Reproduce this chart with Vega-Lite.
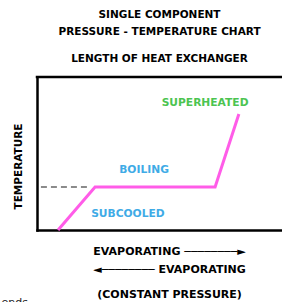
{
  "$schema": "https://vega.github.io/schema/vega-lite/v6.json",
  "autosize": "none",
  "width": 245,
  "height": 153,
  "padding": {"left": 37, "top": 77, "right": 0, "bottom": 72},
  "background": "white",
  "config": {"view": {"stroke": null}, "font": "DejaVu Sans"},
  "title": {
    "text": ["SINGLE COMPONENT", "PRESSURE - TEMPERATURE CHART"],
    "subtitle": "LENGTH OF HEAT EXCHANGER",
    "font": "DejaVu Sans",
    "fontSize": 10.5,
    "fontWeight": "bold",
    "color": "#000",
    "lineHeight": 17,
    "subtitleFont": "DejaVu Sans",
    "subtitleFontSize": 10.5,
    "subtitleFontWeight": "bold",
    "subtitleColor": "#000",
    "subtitlePadding": 16,
    "offset": 11,
    "anchor": "middle"
  },
  "datasets": {
    "curve": [
      {"length": 8.6, "temp": 0},
      {"length": 23.7, "temp": 28.1},
      {"length": 72.7, "temp": 28.1},
      {"length": 82.4, "temp": 75.8}
    ],
    "saturation": [
      {"from": 1.6, "to": 20.8, "temp": 28.1}
    ],
    "frame": [
      {"temp": 100}
    ],
    "labels": [
      {"length": 68.6, "temp": 83.2, "label": "SUPERHEATED", "phase": "superheated"},
      {"length": 43.7, "temp": 39.4, "label": "BOILING", "phase": "boiling"},
      {"length": 37.1, "temp": 10.6, "label": "SUBCOOLED", "phase": "subcooled"}
    ],
    "caption": [
      {"length": 54.1, "temp": -42.5, "label": "(CONSTANT PRESSURE)"}
    ],
    "note": [
      {"length": -14.5, "temp": -48, "label": "ends"}
    ]
  },
  "layer": [
    {
      "data": {"name": "curve"},
      "mark": {"type": "line", "color": "#ff5ce8", "strokeWidth": 3},
      "encoding": {
        "x": {
          "field": "length",
          "type": "quantitative",
          "scale": {"domain": [0, 100], "nice": false, "zero": false},
          "axis": {
            "title": ["EVAPORATING ────────►", "◄──────── EVAPORATING"],
            "labels": false,
            "ticks": false,
            "grid": false,
            "domainColor": "#000",
            "domainWidth": 2.5,
            "domainCap": "square",
            "titleFont": "DejaVu Sans",
            "titleFontSize": 11,
            "titleFontWeight": "bold",
            "titleColor": "#000",
            "titlePadding": 15,
            "titleLineHeight": 18,
            "titleX": 132,
            "titleAlign": "center"
          }
        },
        "y": {
          "field": "temp",
          "type": "quantitative",
          "scale": {"domain": [0, 100], "nice": false, "zero": false},
          "axis": {
            "title": "TEMPERATURE",
            "labels": false,
            "ticks": false,
            "grid": false,
            "domainColor": "#000",
            "domainWidth": 2.5,
            "domainCap": "square",
            "titleFont": "DejaVu Sans",
            "titleFontSize": 10.5,
            "titleFontWeight": "bold",
            "titleColor": "#000",
            "titlePadding": 14,
            "titleY": 89
          }
        }
      }
    },
    {
      "data": {"name": "saturation"},
      "mark": {"type": "rule", "color": "#666", "strokeWidth": 1.5, "strokeDash": [6, 4]},
      "encoding": {
        "x": {"field": "from", "type": "quantitative"},
        "x2": {"field": "to"},
        "y": {"field": "temp", "type": "quantitative"}
      }
    },
    {
      "data": {"name": "frame"},
      "mark": {"type": "rule", "color": "#000", "strokeWidth": 2.5, "strokeCap": "square"},
      "encoding": {
        "y": {"field": "temp", "type": "quantitative"}
      }
    },
    {
      "data": {"name": "labels"},
      "mark": {"type": "text", "font": "DejaVu Sans", "fontSize": 10.7, "fontWeight": "bold", "align": "center", "baseline": "middle"},
      "encoding": {
        "x": {"field": "length", "type": "quantitative"},
        "y": {"field": "temp", "type": "quantitative"},
        "text": {"field": "label"},
        "color": {
          "field": "phase",
          "type": "nominal",
          "scale": {"domain": ["superheated", "boiling", "subcooled"], "range": ["#4cc451", "#3fabe6", "#3fabe6"]},
          "legend": null
        }
      }
    },
    {
      "data": {"name": "caption"},
      "mark": {"type": "text", "font": "DejaVu Sans", "fontSize": 11, "fontWeight": "bold", "align": "center", "baseline": "middle", "color": "#000", "clip": false},
      "encoding": {
        "x": {"field": "length", "type": "quantitative"},
        "y": {"field": "temp", "type": "quantitative"},
        "text": {"field": "label"}
      }
    },
    {
      "data": {"name": "note"},
      "mark": {"type": "text", "font": "DejaVu Sans", "fontSize": 11, "align": "left", "baseline": "middle", "color": "#222", "clip": false},
      "encoding": {
        "x": {"field": "length", "type": "quantitative"},
        "y": {"field": "temp", "type": "quantitative"},
        "text": {"field": "label"}
      }
    }
  ]
}
